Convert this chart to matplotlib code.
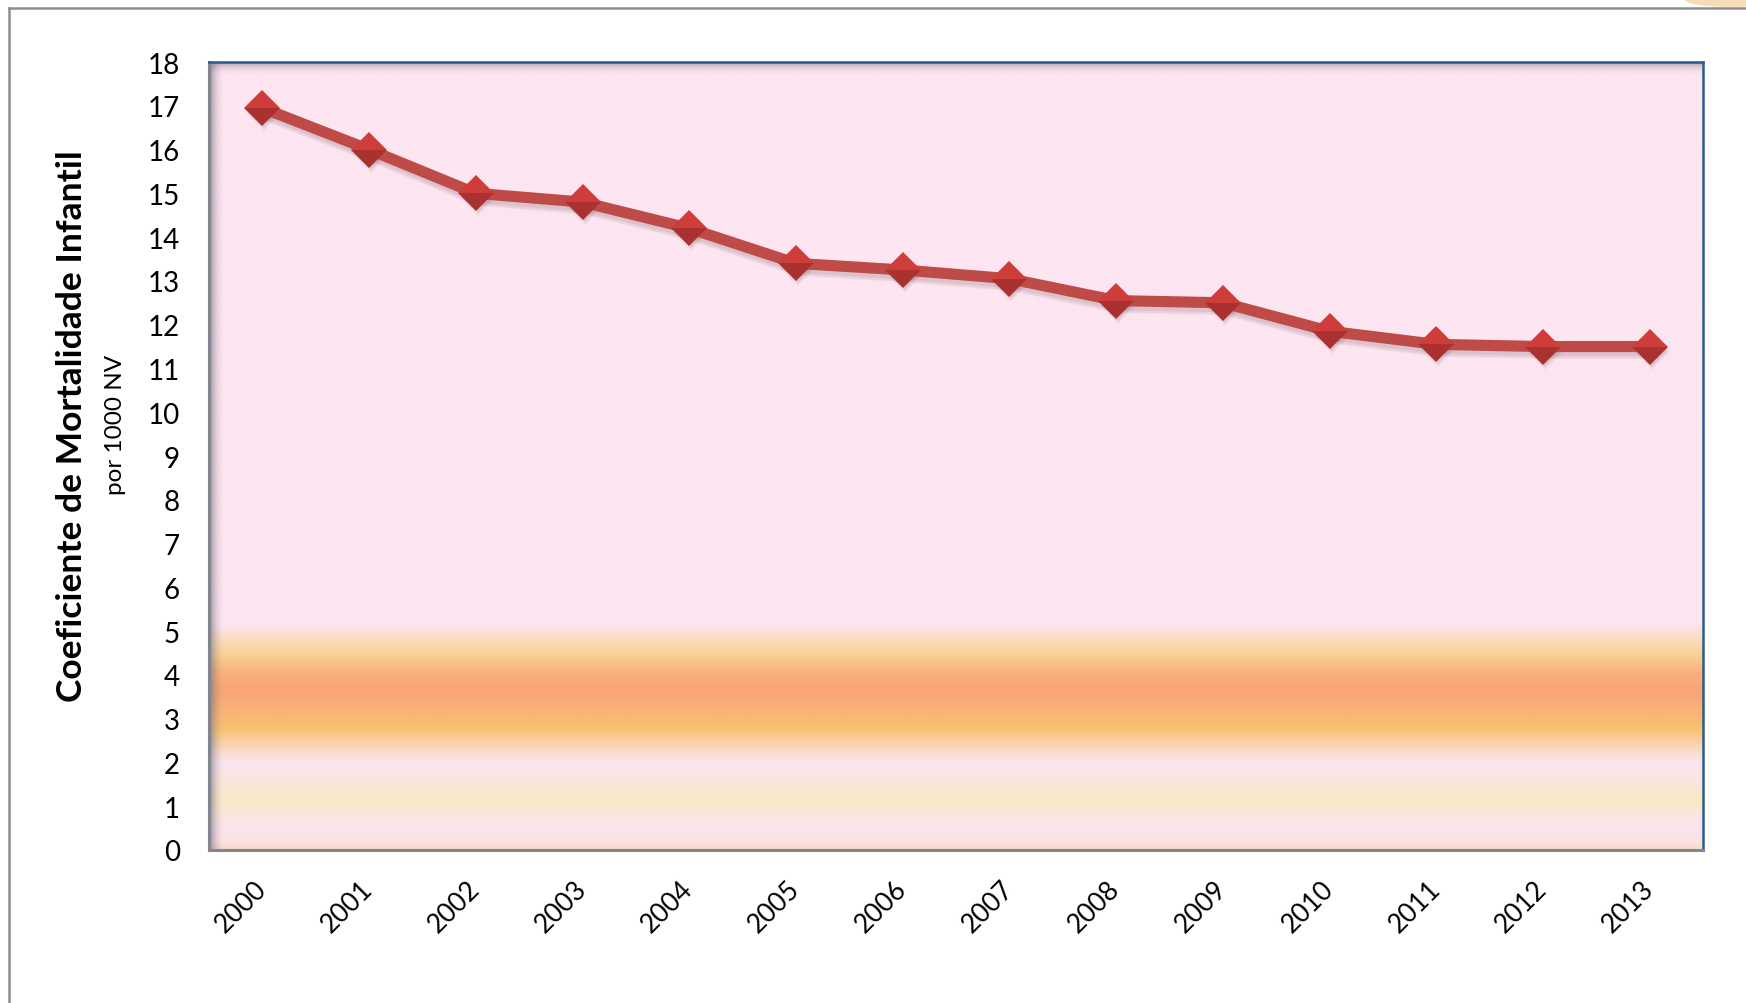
import numpy as np
import matplotlib
matplotlib.use("Agg")
import matplotlib.pyplot as plt
from matplotlib.colors import LinearSegmentedColormap, to_rgb
from matplotlib import transforms
from matplotlib.lines import Line2D
from matplotlib.patches import Ellipse

# ---- data ----
years = ["2000", "2001", "2002", "2003", "2004", "2005", "2006",
         "2007", "2008", "2009", "2010", "2011", "2012", "2013"]
cmi = [16.95, 16.0, 15.0, 14.8, 14.2, 13.4, 13.25,
       13.05, 12.55, 12.5, 11.85, 11.55, 11.5, 11.5]
y_ticks = list(range(0, 19))
y_label = "Coeficiente de Mortalidade Infantil"
y_sublabel = "por 1000 NV"

plt.rcParams['font.family'] = ['Lato', 'DejaVu Sans']

W, H = 1746, 1004
fig = plt.figure(figsize=(W / 100, H / 100), dpi=100)
fig.patch.set_facecolor('white')

L, R, T, B = 209, 1703, 63, 851
ax = fig.add_axes([L / W, 1 - B / H, (R - L) / W, (B - T) / H])

x = np.arange(len(years))
ax.set_xlim(-0.5, len(years) - 0.5)
ax.set_ylim(0, 18)

# ---- background gradient (by value) ----
stops = [
    (0.00, "#F8D8C0"),
    (0.15, "#FBE2E0"),
    (0.50, "#FCE4EF"),
    (1.15, "#FAE9C6"),
    (1.70, "#FBE5E4"),
    (2.00, "#FCE4EF"),
    (2.30, "#FAD8C4"),
    (2.75, "#F9C272"),
    (3.20, "#F9B276"),
    (3.65, "#F8A577"),
    (4.05, "#F9B27C"),
    (4.45, "#FAD094"),
    (4.80, "#FBDCBF"),
    (5.15, "#FDE5F1"),
    (18.0, "#FDE5F1"),
]
cmap = LinearSegmentedColormap.from_list(
    "bg", [(v / 18.0, c) for v, c in stops], N=1024)
grad = np.linspace(0, 18, 1200).reshape(-1, 1)
ax.imshow(grad, extent=(-0.5, len(years) - 0.5, 0, 18), origin='lower',
          aspect='auto', cmap=cmap, vmin=0, vmax=18, zorder=0,
          interpolation='bilinear')

# inner shadows (left and top)
n = 64
a_left = np.zeros((1, n, 4))
a_left[..., :3] = to_rgb("#6E6E78")
a_left[0, :, 3] = np.linspace(0.85, 0, n) ** 2
ax.imshow(a_left, extent=(0, 16 / (R - L), 0, 1), transform=ax.transAxes,
          aspect='auto', zorder=1, interpolation='bilinear')
a_top = np.zeros((n, 1, 4))
a_top[..., :3] = to_rgb("#6E6E78")
a_top[:, 0, 3] = np.linspace(0, 0.75, n) ** 2
ax.imshow(a_top, extent=(0, 1, 1 - 14 / (B - T), 1), transform=ax.transAxes,
          aspect='auto', zorder=1, origin='lower', interpolation='bilinear')

# ---- line shadow (soft) ----
for dx, dy, lw, ms, al in [(2, -5, 15, 25, 0.05),
                           (2, -5, 13, 23, 0.07),
                           (2, -4, 11, 21, 0.09)]:
    tr = transforms.offset_copy(ax.transData, fig=fig, x=dx, y=dy, units='dots')
    ax.plot(x, cmi, color="#5A3A40", lw=lw * 0.72, alpha=al, transform=tr,
            marker='D', markersize=ms * 0.72, markeredgewidth=0,
            solid_joinstyle='round', zorder=2)

# ---- main line ----
ax.plot(x, cmi, color="#BE4B48", lw=8.0, solid_joinstyle='round',
        solid_capstyle='butt', zorder=3)
ax.plot(x, cmi, linestyle='none', marker='D', markersize=18.5,
        fillstyle='top', markerfacecolor="#CE3D3A",
        markerfacecoloralt="#A93230", markeredgewidth=0, zorder=4)

# ---- axes styling ----
for s in ['left', 'bottom']:
    ax.spines[s].set_color("#858590")
    ax.spines[s].set_linewidth(2.2)
for s in ['top', 'right']:
    ax.spines[s].set_color("#2C5A8E")
    ax.spines[s].set_linewidth(1.8)
for s in ax.spines.values():
    s.set_zorder(6)

ax.set_yticks(y_ticks)
ax.set_yticklabels([str(v) for v in y_ticks], fontsize=20)
ax.set_xticks(x)
ax.set_xticklabels(years, fontsize=19, rotation=45, ha='right', va='center',
                   rotation_mode='anchor')
ax.tick_params(axis='y', length=0, pad=21)
ax.tick_params(axis='x', length=0, pad=25)

fig.text(72 / W, 1 - 426 / H, y_label, rotation=90, fontsize=25.5,
         fontweight='bold', ha='center', va='center')
fig.text(115 / W, 1 - 425 / H, y_sublabel, rotation=90, fontsize=17.5,
         ha='center', va='center')

# ---- outer frame ----
fig.add_artist(Line2D([9 / W, 1.0], [1 - 9 / H, 1 - 9 / H],
                      transform=fig.transFigure, color="#8E8E8E", lw=1.8))
fig.add_artist(Line2D([9 / W, 9 / W], [1 - 9 / H, 0.0],
                      transform=fig.transFigure, color="#8E8E8E", lw=1.8))
fig.add_artist(Ellipse((1730 / W, 1 - 1 / H), 90 / W, 14 / H,
                       transform=fig.transFigure, color="#F3CF98",
                       alpha=0.7, lw=0))

fig.savefig("out.png", dpi=100, facecolor='white')
